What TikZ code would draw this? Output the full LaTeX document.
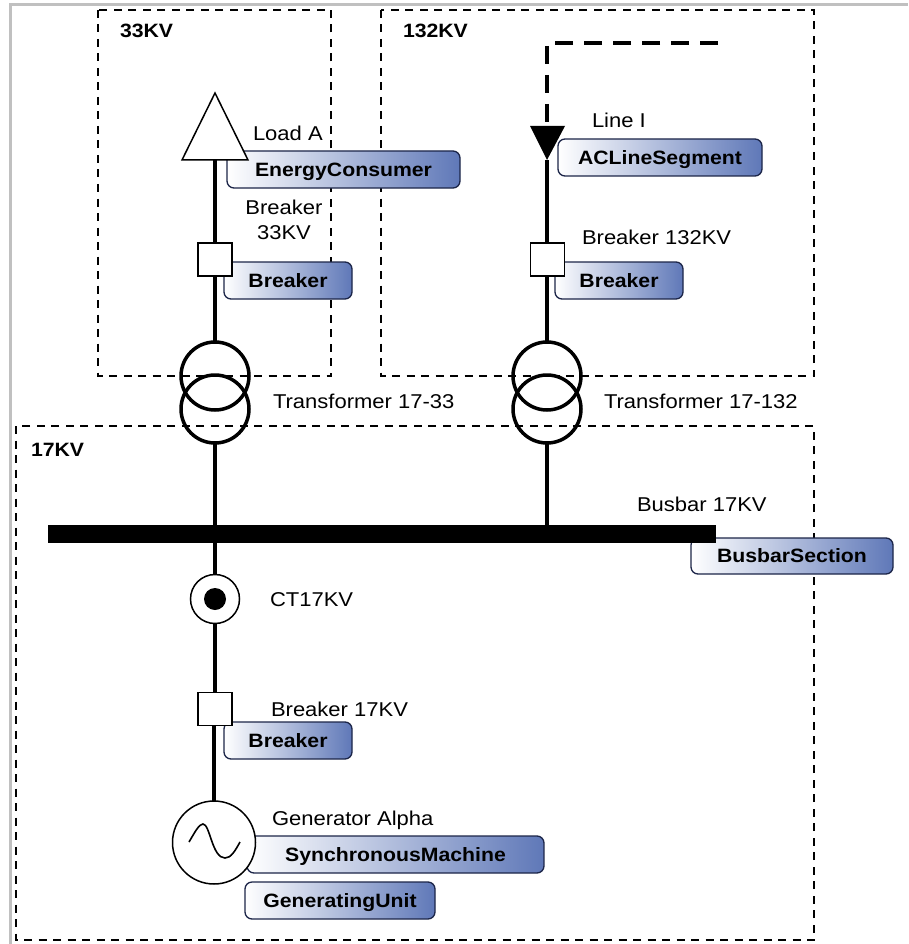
\documentclass[tikz,border=0pt]{standalone}
\usepackage{fontspec}
\setmainfont{Liberation Sans}[FakeStretch=1.1]
\definecolor{tagblue}{HTML}{5F78B8}
\definecolor{tagline}{HTML}{1C2548}
\definecolor{framegray}{HTML}{C0C0C0}
\tikzset{
  zone/.style={draw=black,line width=1.5pt,dash pattern=on 8pt off 6.5pt,fill=none},
  wire/.style={draw=black,line width=4pt},
  feeder/.style={draw=black,line width=4pt,dash pattern=on 18pt off 11pt},
  lbl/.style={inner sep=0pt,outer sep=0pt,anchor=west,text=black,align=left,text height=14.3pt,text depth=0pt,font=\fontsize{20}{25}\selectfont},
  hdr/.style={lbl,text height=13.8pt,font=\fontsize{19.3}{25}\selectfont\bfseries},
  tag/.style={rounded corners=7pt,draw=tagline,line width=1.3pt,left color=white,right color=tagblue,inner sep=0pt,outer sep=0pt,text=black,text height=13.8pt,text depth=0pt,font=\fontsize{19.3}{25}\selectfont\bfseries},
  brk/.style={draw=black,line width=1.5pt,fill=white,minimum width=34pt,minimum height=33pt,inner sep=0pt,outer sep=0pt},
  winding/.style={circle,draw=black,line width=3.5pt,minimum size=68pt,inner sep=0pt,outer sep=0pt},
}
\begin{document}
\begin{tikzpicture}[x=1pt,y=-1pt]
\useasboundingbox (0,0) rectangle (908,944);
\fill[white] (0,0) rectangle (908,944);
% outer frame
\draw[framegray,line width=3pt] (10,944) -- (10,5) -- (908,5);
% zones
\draw[zone] (98,10) rectangle (331,376);
\draw[zone] (381,10) rectangle (814,376);
\draw[zone] (16,426) rectangle (814,940);
\node[hdr] (h33) at (120,31) {33KV};
\node[hdr] (h132) at (403,31) {132KV};
\node[hdr] (h17) at (31,450) {17KV};
% tags
\node[tag,minimum width=233pt,minimum height=37pt] (tEC) at (343.5,169.5) {EnergyConsumer};
\node[tag,minimum width=128pt,minimum height=37pt] (tB33) at (288,280.5) {Breaker};
\node[tag,minimum width=204pt,minimum height=37pt] (tAC) at (660,157.5) {ACLineSegment};
\node[tag,minimum width=128pt,minimum height=37pt] (tB132) at (619,280.5) {Breaker};
\node[tag,minimum width=202pt,minimum height=36pt] (tBS) at (792,556) {BusbarSection};
\node[tag,minimum width=128pt,minimum height=37pt] (tB17) at (288,740.5) {Breaker};
\node[tag,minimum width=297pt,minimum height=37pt] (tSM) at (395.5,854.5) {SynchronousMachine};
\node[tag,minimum width=190pt,minimum height=37pt] (tGU) at (340,900.5) {GeneratingUnit};
% busbar
\node[fill=black,minimum width=668pt,minimum height=18pt,inner sep=0pt,outer sep=0pt] (bus) at (382,534) {};
% symbols
\node[brk] (b33) at (215,259.5) {};
\node[brk] (b132) at (547.5,259.5) {};
\node[brk] (b17) at (215,709) {};
\node[winding] (ta1) at (215,376) {};
\node[winding] (ta2) at (215,409) {};
\node[winding] (tb1) at (547,376) {};
\node[winding] (tb2) at (547,409) {};
\node[circle,draw=black,line width=1.5pt,fill=white,minimum size=49pt,inner sep=0pt,outer sep=0pt] (ct) at (215,599) {};
\node[circle,fill=black,minimum size=22pt,inner sep=0pt,outer sep=0pt] (ctdot) at (215,599) {};
\node[circle,draw=black,line width=1.5pt,fill=white,minimum size=83pt,inner sep=0pt,outer sep=0pt] (gen) at (214,842.5) {};
\draw[black,line width=1.6pt] (189,842) .. controls (195,832) and (199,824) .. (203,824) .. controls (210,824) and (212,858) .. (225,858) .. controls (231,858) and (235,851) .. (240,842);
% load triangle
\coordinate (loadapex) at (215,93);
\coordinate (loadL) at (182,160);
\coordinate (loadR) at (248,160);
\coordinate (loadbase) at (215,160);
\draw[black,line width=1.5pt,fill=white,line join=miter] (loadapex) -- (loadL) -- (loadR) -- cycle;
% line triangle
\coordinate (lineL) at (530,126);
\coordinate (lineR) at (565,126);
\coordinate (lineapex) at (547,160);
\coordinate (linetop) at (547,126);
\fill[black] (lineL) -- (lineR) -- (lineapex) -- cycle;
\coordinate (feedend) at (718,43);
\coordinate (feedcorner) at (547,43);
% connectors
\draw[wire] (loadbase) -- (b33.north);
\draw[wire] (b33.south) -- (ta1.north);
\draw[wire] (ta2.south) -- (bus.north -| ta2.south);
\draw[wire] (bus.south -| ct.north) -- (ct.north);
\draw[wire] (ct.south) -- (b17.north);
\draw[wire] (gen.north |- b17.south) -- (gen.north);
\draw[wire] (lineapex) -- (b132.north -| lineapex);
\draw[wire] (b132.south -| tb1.north) -- (tb1.north);
\draw[wire] (tb2.south) -- (bus.north -| tb2.south);
\draw[feeder] (feedend) -- (feedcorner) -- (linetop);
% labels
\node[lbl] (lLoad) at (253,133) {Load A};
\node[lbl,align=center,anchor=center] (lB33) at (284,232.5) {Breaker\\33KV};
\node[lbl] (lLine) at (592,120) {Line I};
\node[lbl] (lB132) at (582,237) {Breaker 132KV};
\node[lbl] (lT33) at (273,401) {Transformer 17-33};
\node[lbl] (lT132) at (604,401) {Transformer 17-132};
\node[lbl] (lBus) at (637,504) {Busbar 17KV};
\node[lbl] (lCT) at (270,599) {CT17KV};
\node[lbl] (lB17) at (271,709) {Breaker 17KV};
\node[lbl] (lGen) at (272,818) {Generator Alpha};
\end{tikzpicture}
\end{document}
